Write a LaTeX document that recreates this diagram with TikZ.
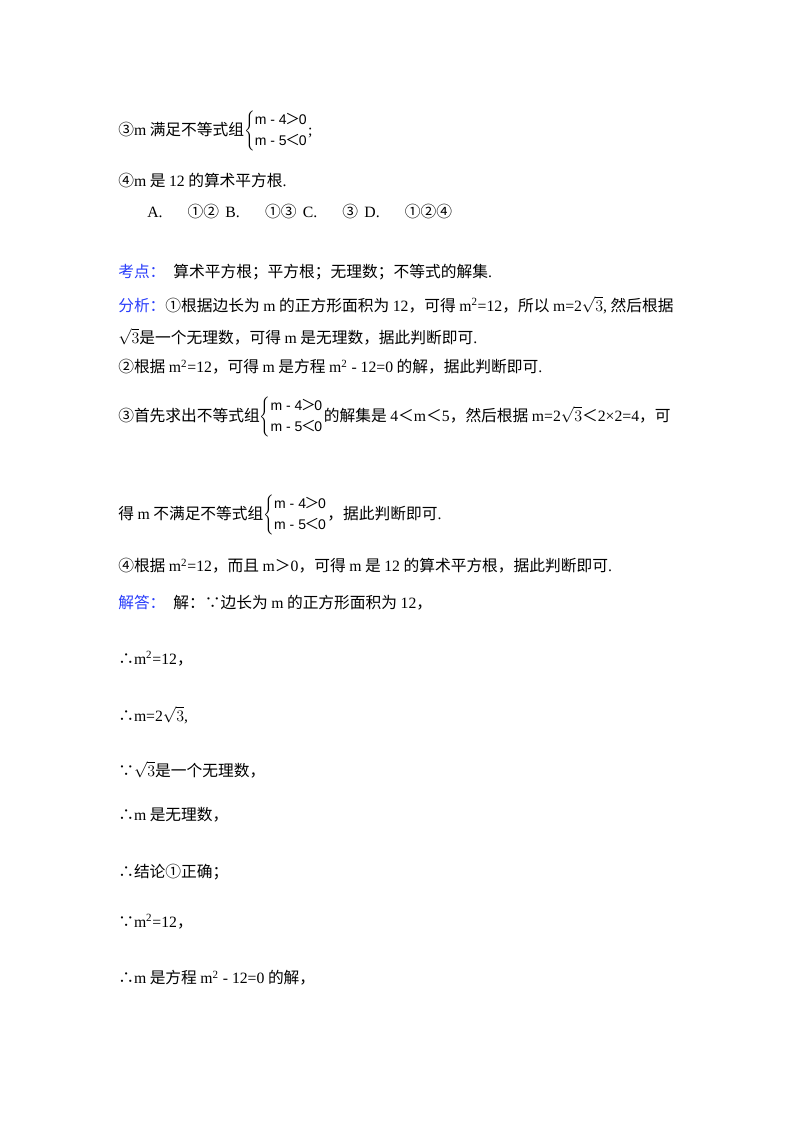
\documentclass[tikz,border=0pt]{standalone}
\usepackage{fontspec}
\setmainfont{Noto Sans CJK SC}
\newfontfamily\en{Liberation Serif}
\newfontfamily\sysf{Liberation Sans}
\newcommand\E[1]{{\en #1}}
\newcommand\ineqsys[2]{$\left\{\begin{array}{@{}l@{}}\hbox{\sysf\fontsize{10.5}{11}\selectfont #1}\\[2pt]\hbox{\sysf\fontsize{10.5}{11}\selectfont #2}\end{array}\right.$}
\newcommand\GT{{\fontsize{11}{11}\selectfont\rmfamily ＞}}
\newcommand\LT{{\fontsize{11}{11}\selectfont\rmfamily ＜}}
\newcommand\sa{\ineqsys{m - 4\hspace{-1pt}\GT\hspace{-1pt}0}{m - 5\hspace{-1pt}\LT\hspace{-1pt}0}}
\definecolor{lbl}{RGB}{40,60,250}
\begin{document}
\begin{tikzpicture}[x=0.75pt,y=-0.75pt,
  ln/.style={anchor=west,inner sep=0pt,font=\fontsize{11.8}{14}\selectfont},
  lb/.style={text=lbl}]
\useasboundingbox (0,0) rectangle (800,1132);
\node[ln] (l1) at (118,131) {③\E{m} 满足不等式组\sa\E{;}};
\node[ln] (l2) at (118,181) {④\E{m} 是 \E{12} 的算术平方根\E{.}};
\node[ln] (l3) at (147,212) {\E{A.}\hspace{1.6em}①②\hspace{0.4em}\E{B.}\hspace{1.6em}①③\hspace{0.4em}\E{C.}\hspace{1.6em}③\hspace{0.4em}\E{D.}\hspace{1.6em}①②④};
\node[ln] (l4) at (118,272) {{\color{lbl}考点：}\enspace 算术平方根；平方根；无理数；不等式的解集\E{.}};
\node[ln] (l5) at (118,305) {{\color{lbl}分析：}①根据边长为 \E{m} 的正方形面积为 \E{12}，可得 \E{m\textsuperscript{2}=12}，所以 \E{m=2}$\sqrt{3}$\E{,} 然后根据};
\node[ln] (l6) at (118,337) {$\sqrt{3}$是一个无理数，可得 \E{m} 是无理数，据此判断即可\E{.}};
\node[ln] (l7) at (118,367) {②根据 \E{m\textsuperscript{2}=12}，可得 \E{m} 是方程 \E{m\textsuperscript{2} - 12=0} 的解，据此判断即可\E{.}};
\node[ln] (l8) at (118,417) {③首先求出不等式组\sa 的解集是 \E{4}＜\E{m}＜\E{5}，然后根据 \E{m=2}$\sqrt{3}$＜\E{2×2=4}，可};
\node[ln] (l9) at (118,515) {得 \E{m} 不满足不等式组\sa，据此判断即可\E{.}};
\node[ln] (l10) at (118,566) {④根据 \E{m\textsuperscript{2}=12}，而且 \E{m}＞\E{0}，可得 \E{m} 是 \E{12} 的算术平方根，据此判断即可\E{.}};
\node[ln] (l11) at (118,603) {{\color{lbl}解答：}\enspace 解：∵边长为 \E{m} 的正方形面积为 \E{12}，};
\node[ln] (l12) at (118,659) {∴\E{m\textsuperscript{2}=12}，};
\node[ln] (l13) at (118,715) {∴\E{m=2}$\sqrt{3}$\E{,}};
\node[ln] (l14) at (118,770) {∵$\sqrt{3}$是一个无理数，};
\node[ln] (l15) at (118,815) {∴\E{m} 是无理数，};
\node[ln] (l16) at (118,872) {∴结论①正确；};
\node[ln] (l17) at (118,922) {∵\E{m\textsuperscript{2}=12}，};
\node[ln] (l18) at (118,978) {∴\E{m} 是方程 \E{m\textsuperscript{2} - 12=0} 的解，};
\end{tikzpicture}
\end{document}
